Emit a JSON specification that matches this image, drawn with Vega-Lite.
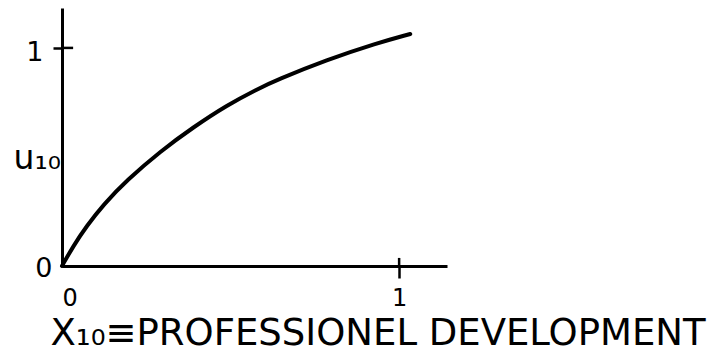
{
  "$schema": "https://vega.github.io/schema/vega-lite/v6.json",
  "width": 385,
  "height": 258,
  "autosize": {"type": "none"},
  "padding": {"left": 62, "top": 8, "right": 275, "bottom": 96},
  "background": "white",
  "config": {
    "view": {"stroke": null},
    "axis": {
      "domainColor": "black",
      "tickColor": "black",
      "labelColor": "black",
      "titleColor": "black",
      "labelFont": "DejaVu Sans",
      "titleFont": "DejaVu Sans",
      "grid": false
    }
  },
  "layer": [
    {
      "data": {
        "values": [
          {"x": 0, "u": 0},
          {"x": 0.034, "u": 0.093},
          {"x": 0.073, "u": 0.183},
          {"x": 0.123, "u": 0.282},
          {"x": 0.192, "u": 0.393},
          {"x": 0.291, "u": 0.525},
          {"x": 0.39, "u": 0.637},
          {"x": 0.489, "u": 0.737},
          {"x": 0.578, "u": 0.81},
          {"x": 0.637, "u": 0.853},
          {"x": 0.785, "u": 0.945},
          {"x": 0.934, "u": 1.022},
          {"x": 1.033, "u": 1.064}
        ]
      },
      "mark": {"type": "line", "color": "black", "strokeWidth": 4, "interpolate": "basis", "strokeCap": "round"},
      "encoding": {
        "x": {
          "field": "x",
          "type": "quantitative",
          "scale": {"domain": [0, 1.142], "nice": false, "zero": false},
          "axis": {
            "values": [0, 1],
            "format": "d",
            "domainWidth": 3,
            "tickSize": 12,
            "tickWidth": 2.5,
            "tickOpacity": {"condition": {"test": "datum.value == 0", "value": 0}, "value": 1},
            "labelFontSize": 24,
            "labelPadding": 8,
            "labelAngle": 0,
            "title": "X₁₀≡PROFESSIONEL DEVELOPMENT",
            "titleFontSize": 37,
            "titleFontWeight": "normal",
            "titleX": -12,
            "titleY": 78,
            "titleAlign": "left",
            "titleBaseline": "alphabetic"
          }
        },
        "y": {
          "field": "u",
          "type": "quantitative",
          "scale": {"domain": [0, 1.183], "nice": false},
          "axis": {
            "values": [0, 1],
            "format": "d",
            "domainWidth": 3,
            "tickSize": 9,
            "tickWidth": 2.5,
            "tickOpacity": {"condition": {"test": "datum.value == 0", "value": 0}, "value": 1},
            "labelFontSize": 27,
            "labelPadding": {"condition": {"test": "datum.value == 0", "value": 1}, "value": 10},
            "labelOffset": {"condition": {"test": "datum.value == 0", "value": 2}, "value": 5},
            "title": "u₁₀",
            "titleAngle": 0,
            "titleX": -49,
            "titleY": 150,
            "titleAlign": "left",
            "titleBaseline": "middle",
            "titleFontSize": 33,
            "titleFontWeight": "normal"
          }
        }
      }
    },
    {
      "data": {"values": [{}]},
      "mark": {"type": "rule", "color": "black", "strokeWidth": 2.5},
      "encoding": {"y": {"datum": 1}, "x": {"datum": 0}, "x2": {"datum": 0.033}}
    },
    {
      "data": {"values": [{}]},
      "mark": {"type": "rule", "color": "black", "strokeWidth": 2.5},
      "encoding": {"x": {"datum": 1}, "y": {"datum": 0}, "y2": {"datum": 0.037}}
    }
  ]
}
